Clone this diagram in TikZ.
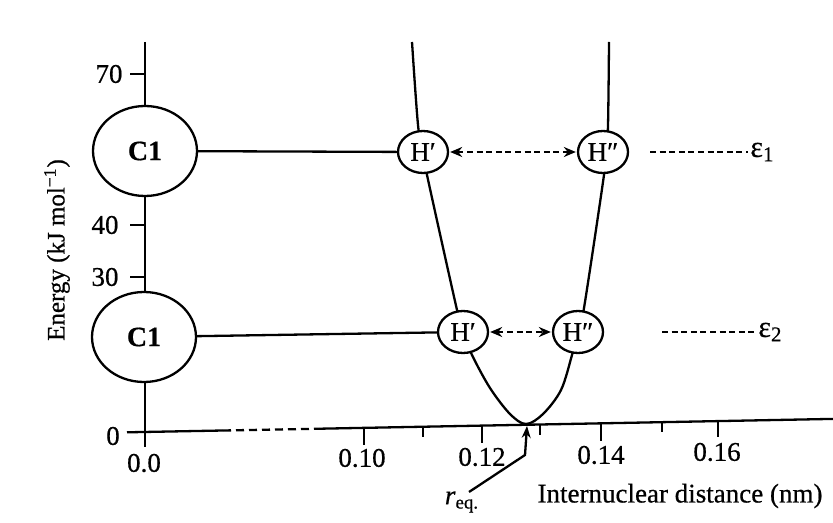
\documentclass[tikz,border=0pt]{standalone}
\usepackage{fontspec}
\setmainfont{Liberation Serif}[FakeBold=0.6]
\usetikzlibrary{shapes.geometric,arrows.meta,backgrounds}
\begin{document}
\begin{tikzpicture}[x=0.5pt,y=-0.5pt,
  ln/.style={line width=1.15pt},
  cnode/.style={ellipse,draw,line width=1.15pt,fill=white,minimum width=52pt,minimum height=45pt,inner sep=0pt,font=\fontsize{14}{16}\selectfont\bfseries},
  hnode/.style={ellipse,draw,line width=1.15pt,fill=white,minimum width=25pt,minimum height=21pt,inner sep=0pt,font=\fontsize{13.5}{15}\selectfont},
  tlab/.style={font=\fontsize{13.5}{15}\selectfont,inner sep=0pt},
  dsh/.style={line width=1pt,dash pattern=on 3pt off 1.8pt},
  dblarr/.style={dsh,{Stealth[length=6pt,width=5pt]}-{Stealth[length=6pt,width=5pt]},shorten <=0.5pt,shorten >=0.5pt},
  tick/.style={line width=1.15pt}
]
\useasboundingbox (0,0) rectangle (833,523);
% nodes
\node[cnode] (C1a) at (145,151) {C1};
\node[cnode] (C1b) at (144,337) {C1};
\node[hnode] (Ha1) at (423,152) {H′};
\node[hnode] (Ha2) at (603,152) {H″};
\node[hnode] (Hb1) at (463,332) {H′};
\node[hnode] (Hb2) at (578,332) {H″};
% axis coordinates
\coordinate (ytop) at (145,42);
\coordinate (ybot) at (145,447);
\coordinate (x0) at (127,432.3);
\coordinate (xd1) at (223,430.5);
\coordinate (xd2) at (320,428.7);
\coordinate (xend) at (833,418.9);
\begin{scope}[on background layer]
  \draw[ln] (ytop) -- (ybot);
  \draw[ln] plot[smooth,tension=0.55] coordinates {(412,42) (418,125) (Ha1.center) (427,175) (457,310) (Hb1.center) (472,355) (490,388) (510,414) (526,424) (543,414) (561,390) (572,355) (Hb2.center) (584,308) (604,175) (606,152) (608,125) (609,42)};
\end{scope}
% x axis
\draw[ln] (x0) -- (xd1);
\draw[ln,dash pattern=on 4pt off 2.5pt] (xd1) -- (xd2);
\draw[ln] (xd2) -- (xend);
% x ticks
\foreach \x/\y/\l in {364/427.8/17, 423/426.7/10, 482/425.6/17, 540/424.5/10, 601/423.3/18, 662/422.2/10, 718/421.1/16}
  \draw[tick] (\x,\y) -- ++(0,\l);
% y ticks
\foreach \y in {74,225,277}
  \draw[tick] (130,\y) -- (145,\y);
% tick labels
\node[tlab] (l70) at (109,74) {70};
\node[tlab] (l40) at (105,225) {40};
\node[tlab] (l30) at (105,277) {30};
\node[tlab] (l0) at (113,436) {0};
\node[tlab] (l00) at (144,463) {0.0};
\node[tlab] (l10) at (362,458) {0.10};
\node[tlab] (l12) at (482,457) {0.12};
\node[tlab] (l14) at (601,455) {0.14};
\node[tlab] (l16) at (717,452) {0.16};
% axis titles
\node[tlab,rotate=90,font=\fontsize{12.5}{14}\selectfont] (ylab) at (57,250) {Energy (kJ mol\textsuperscript{−1})};
\node[tlab] (xlab) at (680,496) {Internuclear distance (nm)};
% connectors
\draw[ln] (C1a) -- (Ha1);
\draw[ln] (C1b) -- (Hb1);
\draw[dblarr] (Ha1) -- (Ha2);
\draw[dblarr] (Hb1) -- (Hb2);
% epsilon levels
\node[tlab,anchor=west,font=\fontsize{15}{16}\selectfont] (e1) at (750,152) {ε\textsubscript{1}};
\node[tlab,anchor=west,font=\fontsize{15}{16}\selectfont] (e2) at (758,332) {ε\textsubscript{2}};
\coordinate (e1s) at (650,152);
\coordinate (e2s) at (662,332);
\draw[dsh] (e1s) -- ([xshift=-1pt]e1.west);
\draw[dsh] (e2s) -- ([xshift=-1pt]e2.west);
% r_eq
\node[tlab] (req) at (462,502) {\textit{r}\textsubscript{eq.}};
\coordinate (rs) at (469,492);
\coordinate (rb) at (525,455);
\coordinate (rmin) at (527,426);
\draw[ln,-{Stealth[length=6pt,width=4.5pt]}] (rs) -- (rb) -- (rmin);
\end{tikzpicture}
\end{document}
